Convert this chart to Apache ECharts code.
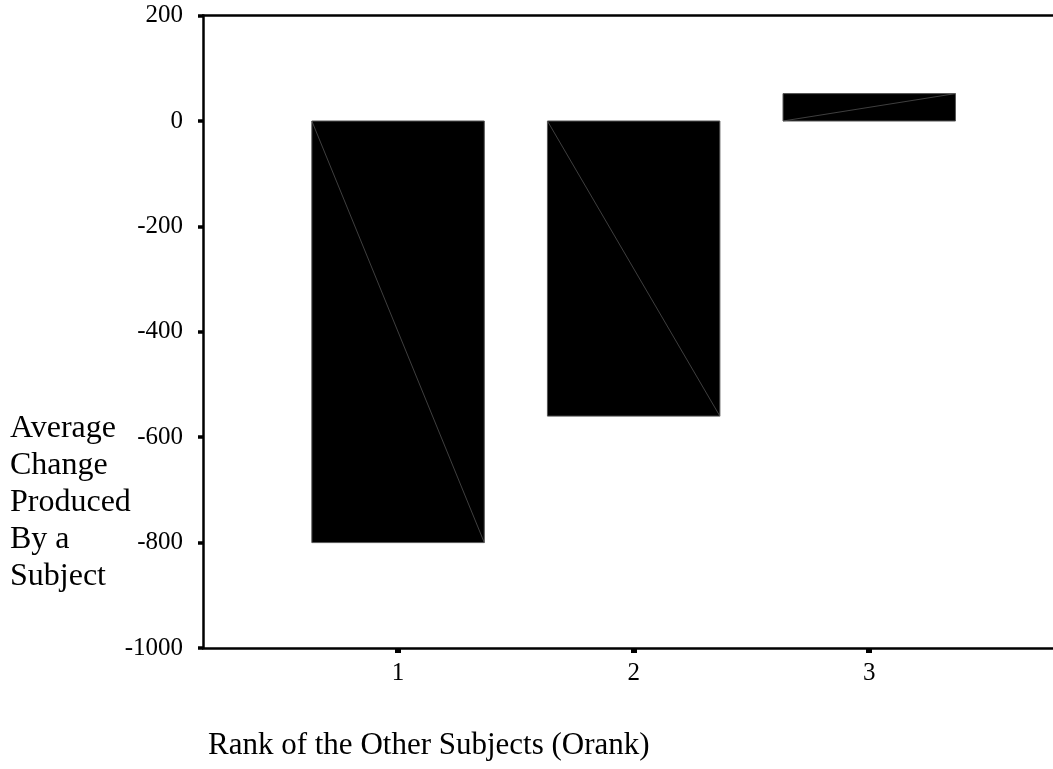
<!DOCTYPE html>
<html>
<head>
<meta charset="utf-8">
<script src="https://cdn.jsdelivr.net/npm/echarts@6/dist/echarts.min.js"></script>
<style>
html,body{margin:0;padding:0;background:#fff;}
#chart{width:1053px;height:769px;}
</style>
</head>
<body>
<div id="chart"></div>
<script>
// ---- data ----
const categories = [1, 2, 3];
const values = [-800, -560, 52];
const yTicks = [-1000, -800, -600, -400, -200, 0, 200];
const yTitleLines = ['Average', 'Change', 'Produced', 'By a', 'Subject'];
const xTitle = 'Rank of the Other Subjects (Orank)';

const BAR_HALF = 0.366;
const FONT = '"Liberation Serif", "Times New Roman", serif';

const chart = echarts.init(document.getElementById('chart'), null, {renderer: 'canvas'});

const seriesData = categories.map((c, i) => [c, values[i]]);

chart.setOption({
  animation: false,
  backgroundColor: '#fff',
  grid: {left: 203, right: 0, top: 15.6, bottom: 121, containLabel: false},
  xAxis: [{
    type: 'value',
    min: 0.172,
    max: 3.78,
    position: 'bottom',
    splitLine: {show: false},
    axisLine: {show: true, onZero: false, lineStyle: {color: '#000', width: 2.5}},
    axisTick: {show: true, customValues: categories, length: 5, lineStyle: {color: '#000', width: 6}},
    axisLabel: {show: true, customValues: categories, margin: 13, color: '#000', fontSize: 25, fontFamily: FONT,
      formatter: v => String(v)}
  }, {
    type: 'value',
    min: 0.172,
    max: 3.78,
    position: 'top',
    splitLine: {show: false},
    axisLine: {show: true, onZero: false, lineStyle: {color: '#000', width: 2.5}},
    axisTick: {show: false},
    axisLabel: {show: false}
  }],
  yAxis: {
    type: 'value',
    min: yTicks[0],
    max: yTicks[yTicks.length - 1],
    interval: 200,
    splitLine: {show: false},
    axisLine: {show: true, onZero: false, lineStyle: {color: '#000', width: 2.5}},
    axisTick: {show: true, length: 5, lineStyle: {color: '#000', width: 3.5}},
    axisLabel: {margin: 20, color: '#000', fontSize: 25, fontFamily: FONT, formatter: v => String(v)}
  },
  series: [{
    type: 'custom',
    xAxisIndex: 0,
    data: seriesData,
    renderItem: function (params, api) {
      const x = api.value(0), v = api.value(1);
      const p0 = api.coord([x - BAR_HALF, 0]);
      const p1 = api.coord([x + BAR_HALF, v]);
      const left = Math.min(p0[0], p1[0]), right = Math.max(p0[0], p1[0]);
      const top = Math.min(p0[1], p1[1]), bottom = Math.max(p0[1], p1[1]);
      return {
        type: 'group',
        children: [{
          type: 'rect',
          shape: {x: left, y: top, width: right - left, height: bottom - top},
          style: {fill: '#000', stroke: '#555', lineWidth: 1}
        }, {
          type: 'line',
          shape: {x1: p0[0], y1: p0[1], x2: p1[0], y2: p1[1]},
          style: {stroke: '#5a5a5a', lineWidth: 0.7}
        }]
      };
    }
  }],
  graphic: [{
    type: 'text',
    left: 10,
    top: 410,
    style: {
      text: yTitleLines.join('\n'),
      fontSize: 32,
      lineHeight: 37,
      fontFamily: FONT,
      fill: '#000'
    }
  }, {
    type: 'text',
    left: 208,
    top: 730,
    style: {
      text: xTitle,
      fontSize: 31,
      lineHeight: 31,
      fontFamily: FONT,
      fill: '#000'
    }
  }]
});
</script>
</body>
</html>
